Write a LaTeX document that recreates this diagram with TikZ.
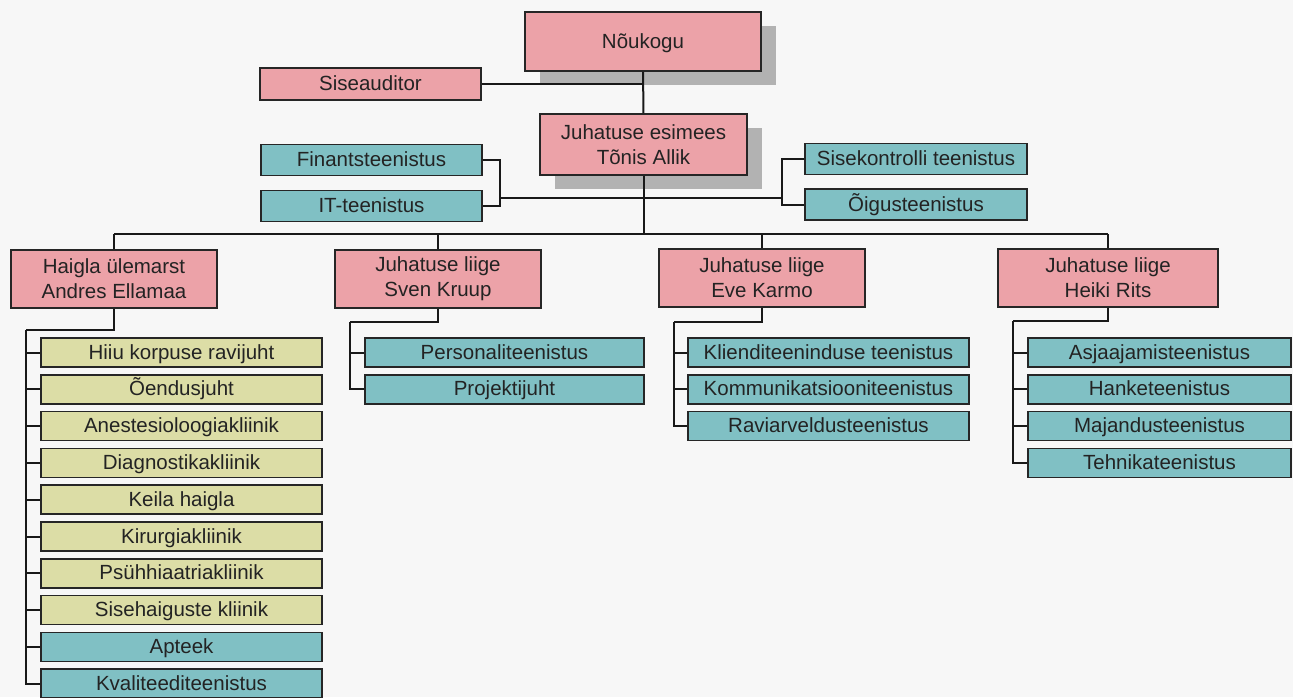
\documentclass[tikz,border=0pt]{standalone}
\usepackage{fontspec}
\setmainfont{Liberation Sans}
\usetikzlibrary{shadows}
\definecolor{roosa}{RGB}{236,162,168}
\definecolor{sini}{RGB}{128,192,196}
\definecolor{kollane}{RGB}{220,221,166}
\definecolor{tekst}{RGB}{35,35,35}

\begin{document}
\begin{tikzpicture}
  [x=1pt,y=-1pt,color=black!90,line width=2pt,
   every node/.style={rectangle,draw=black!85,line width=1.6pt,text=tekst,
     font=\fontsize{20.5}{25}\selectfont,align=center,inner sep=0pt},
   juht/.style={fill=roosa,minimum width=206pt,minimum height=58pt},
   rida/.style={text height=17pt,text depth=4pt},
   sin/.style={rida,fill=sini,minimum width=221pt,minimum height=31pt},
   kol/.style={rida,fill=kollane,minimum width=221pt,minimum height=31pt},
   vari/.style={drop shadow={shadow xshift=15pt,shadow yshift=-14pt,fill=black!30,opacity=1}},
   list/.style={minimum width=281pt,minimum height=29pt}]
  \fill[black!3] (0,0) rectangle (1293,697);
  \useasboundingbox (0,0) rectangle (1293,697);

  \node[juht,rida,vari,minimum width=236pt,minimum height=59pt] (nou) at (643,41.5) {Nõukogu};
  \node[juht,rida,minimum width=221pt,minimum height=32pt] (sis) at (370.5,84) {Siseauditor};
  \node[juht,vari,minimum width=207pt,minimum height=61pt] (esi) at (643.5,144.5) {Juhatuse esimees\\Tõnis Allik};
  \node[sin] (fin) at (371.5,160) {Finantsteenistus};
  \node[sin] (it) at (371.5,206) {IT-teenistus};
  \node[sin,minimum width=222pt] (sk) at (916,159) {Sisekontrolli teenistus};
  \node[sin,minimum width=222pt] (oig) at (916,204.5) {Õigusteenistus};

  \node[juht] (ha) at (114,279) {Haigla ülemarst\\Andres Ellamaa};
  \node[juht] (sv) at (438,279) {Juhatuse liige\\Sven Kruup};
  \node[juht] (ev) at (762,278) {Juhatuse liige\\Eve Karmo};
  \node[juht,minimum width=220pt] (he) at (1108,278) {Juhatuse liige\\Heiki Rits};

  \foreach \t/\s [count=\i] in {Hiiu korpuse ravijuht/kol,Õendusjuht/kol,
      Anestesioloogiakliinik/kol,Diagnostikakliinik/kol,Keila haigla/kol,
      Kirurgiakliinik/kol,Psühhiaatriakliinik/kol,Sisehaiguste kliinik/kol,
      Apteek/sin,Kvaliteediteenistus/sin}
    \node[\s,list] (h\i) at (181.5,315.7+36.8*\i) {\t};
  \foreach \t [count=\i] in {Personaliteenistus,Projektijuht}
    \node[sin,list,minimum width=279pt] (s\i) at (504.5,315.7+36.8*\i) {\t};
  \foreach \t [count=\i] in {Klienditeeninduse teenistus,Kommunikatsiooniteenistus,
      Raviarveldusteenistus}
    \node[sin,list] (e\i) at (828.5,315.7+36.8*\i) {\t};
  \foreach \t [count=\i] in {Asjaajamisteenistus,Hanketeenistus,Majandusteenistus,
      Tehnikateenistus}
    \node[sin,list,minimum width=263pt] (r\i) at (1159.5,315.7+36.8*\i) {\t};

  \coordinate (fb) at (500,198);
  \coordinate (ob) at (782,198);
  \coordinate (bl) at (114,234);
  \coordinate (br) at (1108,234);
  \coordinate (hb) at (26,330);
  \coordinate (sb) at (350,322);
  \coordinate (eb) at (674,322);
  \coordinate (rb) at (1013,321);

  \draw (nou) -- (esi);
  \draw (sis) -- (sis -| nou);
  \draw (fin) -| (fb);
  \draw (it) -| (fb);
  \draw (fb) -- (ob);
  \draw (sk) -| (ob);
  \draw (oig) -| (ob);
  \draw (esi) -- (esi |- bl);
  \draw (bl) -- (br);
  \foreach \n in {ha,sv,ev,he}
    \draw (\n) -- (\n |- bl);

  \draw (ha) |- (hb);
  \draw (sv) |- (sb);
  \draw (ev) |- (eb);
  \draw (he) |- (rb);
  \foreach \i in {1,...,10}
    \draw (hb) |- (h\i);
  \foreach \i in {1,2}
    \draw (sb) |- (s\i);
  \foreach \i in {1,2,3}
    \draw (eb) |- (e\i);
  \foreach \i in {1,...,4}
    \draw (rb) |- (r\i);
\end{tikzpicture}
\end{document}
